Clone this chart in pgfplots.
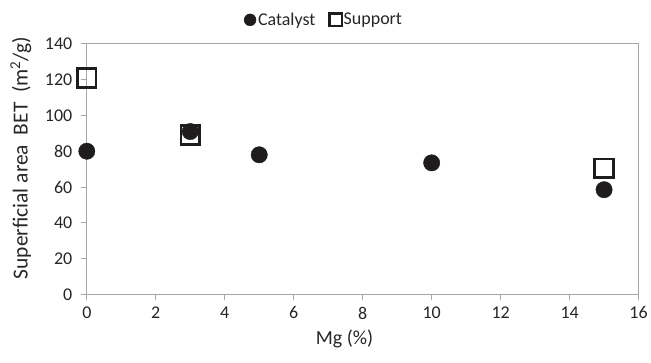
\documentclass[border=0pt]{standalone}
\usepackage{pgfplots}
\pgfplotsset{compat=1.18}
\usepackage{fontspec}
\setmainfont{Carlito}
\definecolor{axgray}{HTML}{A6A6A6}
\definecolor{mk}{HTML}{1F1C1D}
\begin{document}
\begin{tikzpicture}[x=1pt,y=1pt]
\begin{axis}[
  at={(0,0)}, anchor=south west,
  scale only axis, width=553pt, height=251pt,
  xmin=0, xmax=16, ymin=0, ymax=140,
  xtick={0,2,...,16}, ytick={0,20,...,140},
  /pgf/number format/assume math mode=true,
  tick label style={font=\fontsize{18}{20}\selectfont, text=black!85},
  axis line style={axgray, line width=1pt},
  tick style={axgray, line width=1pt},
  tick align=outside, major tick length=6pt,
  xtick pos=bottom, ytick pos=left,
  xticklabel style={yshift=-3pt},
  yticklabel style={xshift=-5pt},
  xlabel={Mg (\%)},
  ylabel={Superficial area\ \ BET\ \ (m\textsuperscript{2}/g)},
  label style={text=black!85},
  xlabel style={font=\fontsize{20}{24}\selectfont, at={(axis description cs:0.467,0)}, anchor=north, yshift=-32pt},
  ylabel style={font=\fontsize{21.5}{24}\selectfont, at={(axis description cs:0,0.545)}, anchor=south, yshift=52pt},
  legend columns=2,
  legend style={draw=none, fill=none, at={(0.43,1.096)}, anchor=center,
    font=\fontsize{18}{22}\selectfont, text=black!85,
    /tikz/every even column/.append style={column sep=12pt}},
  legend image code/.code={\draw[#1] plot coordinates {(0cm,0cm)};},
  legend cell align=left,
  clip=false,
]
\addplot[only marks, mark=*, mark size=8.2pt, mark options={fill=mk, draw=mk},
  legend image post style={mark size=6pt}]
  coordinates {(0,80) (3,91) (5,78) (10,73.5) (15,58.5)};
\addlegendentry{Catalyst}
\addplot[only marks, mark=square, mark size=9.3pt, mark options={draw=mk, line width=2.8pt},
  legend image post style={mark size=6.2pt, mark options={draw=mk, line width=2.4pt}}]
  coordinates {(0,121) (3,89) (15,70.5)};
\addlegendentry{Support}
\end{axis}
\useasboundingbox (-87,-68) rectangle (564,295);
\end{tikzpicture}
\end{document}
